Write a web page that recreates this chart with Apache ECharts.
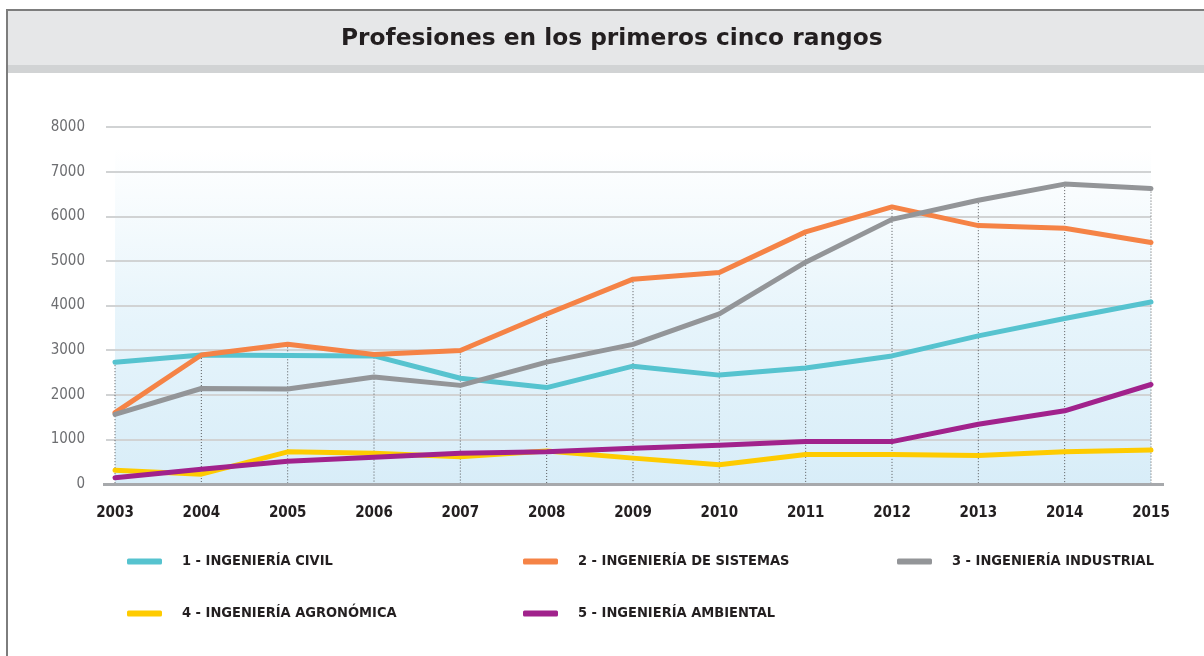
<!DOCTYPE html>
<html>
<head>
<meta charset="utf-8">
<script src="https://cdn.jsdelivr.net/npm/echarts@6/dist/echarts.min.js"></script>
<style>
  html, body { margin: 0; padding: 0; background: #fff; }
  #root { width: 1204px; height: 656px; }
</style>
</head>
<body>
<div id="root"></div>
<script>
const years = ['2003', '2004', '2005', '2006', '2007', '2008', '2009', '2010', '2011', '2012', '2013', '2014', '2015'];

const names = [
  '1 - INGENIERÍA CIVIL',
  '2 - INGENIERÍA DE SISTEMAS',
  '3 - INGENIERÍA INDUSTRIAL',
  '4 - INGENIERÍA AGRONÓMICA',
  '5 - INGENIERÍA AMBIENTAL'
];

const civil = [2730, 2890, 2880, 2870, 2370, 2160, 2640, 2440, 2600, 2870, 3320, 3710, 4080];
const sistemas = [1600, 2890, 3130, 2900, 2990, 3810, 4590, 4740, 5650, 6210, 5790, 5730, 5410];
const industrial = [1560, 2140, 2130, 2400, 2210, 2730, 3130, 3810, 4970, 5930, 6360, 6720, 6620];
const agronomica = [310, 220, 720, 690, 610, 740, 580, 430, 660, 660, 640, 720, 760];
const ambiental = [140, 330, 510, 600, 690, 720, 800, 870, 950, 950, 1340, 1640, 2230];

const colors = ['#56c3cf', '#f58346', '#939598', '#fecb00', '#a1228c'];
const seriesData = [civil, sistemas, industrial, agronomica, ambiental];

// top of each dotted guide = highest value of that year
const guideTop = years.map((y, i) => [i, Math.max(...seriesData.map(s => s[i]))]);

const narrow = "'DejaVu Sans Condensed', 'Liberation Sans Narrow', sans-serif";

let myChart = echarts.init(document.getElementById('root'));

const legendPos = [
  [127, 554], [523, 554], [897, 554],
  [127, 606], [523, 606]
];

let option = {
  animation: false,
  title: {
    text: 'Profesiones en los primeros cinco rangos',
    left: 336,
    top: 22,
    textStyle: {
      fontFamily: 'Verdana, DejaVu Sans',
      fontWeight: 'bold',
      fontSize: 23.3,
      color: '#231f20'
    }
  },
  graphic: [
    { type: 'rect', shape: { x: 7, y: 9, width: 1200, height: 56 }, style: { fill: '#e6e7e8' }, z: -10 },
    { type: 'rect', shape: { x: 7, y: 65, width: 1200, height: 8 }, style: { fill: '#d1d3d4' }, z: -10 },
    { type: 'line', shape: { x1: 7, y1: 10, x2: 1204, y2: 10 }, style: { stroke: '#7d7d7d', lineWidth: 2 }, z: -9 },
    { type: 'line', shape: { x1: 7, y1: 9, x2: 7, y2: 656 }, style: { stroke: '#7d7d7d', lineWidth: 2 }, z: -9 },
    // axis line runs a little past the first and last year
    { type: 'line', shape: { x1: 103, y1: 484.5, x2: 1164, y2: 484.5 }, style: { stroke: '#a7a9ac', lineWidth: 3 }, z: 5 }
  ],
  legend: legendPos.map((p, i) => ({
    data: [names[i]],
    left: p[0],
    top: p[1],
    padding: 0,
    itemWidth: 35,
    itemHeight: 6,
    icon: 'roundRect',
    textStyle: {
      fontFamily: narrow,
      fontWeight: 'bold',
      fontSize: 14.5,
      color: '#231f20',
      padding: [0, 0, 0, 15]
    }
  })),
  grid: {
    left: 115,
    right: 53,
    top: 127,
    bottom: 172,
    show: true,
    borderWidth: 0,
    backgroundColor: {
      type: 'linear', x: 0, y: 0, x2: 0, y2: 1,
      colorStops: [
        { offset: 0, color: '#ffffff' },
        { offset: 0.06, color: '#ffffff' },
        { offset: 0.55, color: '#e6f4fb' },
        { offset: 1, color: '#d8edf8' }
      ]
    }
  },
  xAxis: {
    type: 'category',
    data: years,
    boundaryGap: false,
    axisLine: { show: false },
    axisTick: { show: false },
    axisLabel: {
      margin: 22,
      fontFamily: narrow,
      fontWeight: 'bold',
      fontSize: 15,
      color: '#231f20'
    },
    splitLine: { show: false }
  },
  yAxis: {
    type: 'value',
    min: 0,
    max: 8000,
    interval: 1000,
    axisLine: { show: false },
    axisTick: { show: true, length: 9, lineStyle: { color: '#d1d3d4', width: 2 } },
    axisLabel: {
      margin: 30,
      fontFamily: narrow,
      fontSize: 15,
      color: '#6d6e71',
      formatter: v => String(v)
    },
    splitLine: { lineStyle: { color: '#d1d3d4', width: 2 } }
  },
  series: [
    {
      type: 'custom',
      silent: true,
      z: 1,
      encode: { x: 0, y: 1 },
      data: guideTop,
      renderItem: function (params, api) {
        let top = api.coord([api.value(0), api.value(1)]);
        let bottom = api.coord([api.value(0), 0]);
        return {
          type: 'line',
          shape: { x1: top[0], y1: top[1], x2: bottom[0], y2: bottom[1] },
          style: { stroke: '#58595b', lineWidth: 1, lineDash: [1, 2] }
        };
      }
    }
  ].concat(seriesData.map((d, i) => ({
    name: names[i],
    type: 'line',
    data: d,
    z: 3,
    color: colors[i],
    showSymbol: false,
    symbol: 'none',
    lineStyle: { width: 5, color: colors[i], cap: 'round', join: 'round' }
  })))
};

myChart.setOption(option);
</script>
</body>
</html>
